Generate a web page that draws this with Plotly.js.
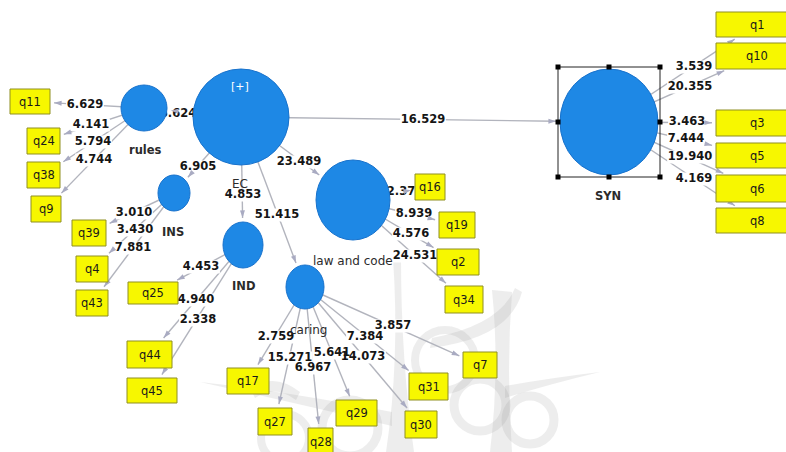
<!DOCTYPE html>
<html><head><meta charset="utf-8">
<script src="https://cdn.plot.ly/plotly-3.0.1.min.js"></script>
<style>html,body{margin:0;padding:0;background:#fff}#c{width:786px;height:452px}</style>
</head><body><div id="c"></div>
<script>
// ---------------- data ----------------
const constructs = ['EC','rules','INS','IND','law and code','caring','SYN'];
const structFrom = ['EC','EC','EC','EC','EC','EC'];
const structTo = ['rules','INS','IND','law and code','caring','SYN'];
const structValue = [6.624, 6.905, 4.853, 23.489, 51.415, 16.529];

const rulesItems = ['q11','q24','q38','q9'];
const rulesValue = [6.629, 4.141, 5.794, 4.744];
const insItems = ['q39','q4','q43'];
const insValue = [3.010, 3.430, 7.881];
const indItems = ['q25','q44','q45'];
const indValue = [4.453, 4.940, 2.338];
const lawItems = ['q16','q19','q2','q34'];
const lawValue = [2.37, 8.939, 4.576, 24.531];
const caringItems = ['q17','q27','q28','q29','q31','q30','q7'];
const caringValue = [2.759, 15.271, 6.967, 5.641, 7.384, 14.073, 3.857];
const synItems = ['q1','q10','q3','q5','q6','q8'];
const synValue = [3.539, 20.355, 3.463, 7.444, 19.940, 4.169];

// ---------------- layout (positions / sizes) ----------------
const nodeGeom = {EC:[241,117,48,48], rules:[144,108,23,23], INS:[174,193,16,18], IND:[243,245,20,23],
  'law and code':[353,200,37,40], caring:[305,287,19,22], SYN:[609,122,49,53]};
const nodeLabelPos = {EC:[240,184], rules:[145,150], INS:[173,232], IND:[243,286],
  'law and code':[353,261], caring:[308,330], SYN:[608,196]};
const boldNode = {rules:true, INS:true, IND:true, SYN:true};
const boxGeom = {
  q11:[10,89,50,114], q24:[27,128,60,154], q38:[27,162,60,188], q9:[31,196,61,222],
  q39:[72,220,106,246], q4:[76,256,108,282], q43:[76,290,108,316],
  q25:[128,282,178,304], q44:[127,341,172,368], q45:[127,378,177,403],
  q17:[227,368,269,394], q27:[258,408,292,435], q28:[308,428,333,456], q29:[336,400,377,426],
  q31:[409,373,448,400], q30:[405,411,437,438], q7:[463,352,497,378],
  q16:[415,174,445,200], q19:[439,212,475,238], q2:[437,249,479,275], q34:[445,286,483,313],
  q1:[716,12,798,37], q10:[716,43,798,69], q3:[716,110,798,136], q5:[716,143,798,168],
  q6:[716,175,798,202], q8:[716,208,798,233]
};
const structLabelPos = [[178,114],[198,167],[243,195],[299,162],[277,215],[423,120]];
const rulesLabelPos = [[85,105],[91,125],[93,142],[94,160]];
const insLabelPos = [[134,213],[135,230],[133,248]];
const indLabelPos = [[201,267],[196,300],[198,320]];
const lawLabelPos = [[405,192],[414,214],[411,234],[415,256]];
const caringLabelPos = [[276,337],[290,358],[313,368],[332,353],[365,337],[363,357],[393,326]];
const synLabelPos = [[694,67],[690,87],[687,122],[686,139],[690,157],[694,179]];

const groups = [
  {node:'rules', items:rulesItems, values:rulesValue, pos:rulesLabelPos},
  {node:'INS', items:insItems, values:insValue, pos:insLabelPos},
  {node:'IND', items:indItems, values:indValue, pos:indLabelPos},
  {node:'law and code', items:lawItems, values:lawValue, pos:lawLabelPos},
  {node:'caring', items:caringItems, values:caringValue, pos:caringLabelPos},
  {node:'SYN', items:synItems, values:synValue, pos:synLabelPos}
];

const LINE = '#b2b4bd', ARROW = '#a9abc2';
const FONT = 'DejaVu Sans, Verdana, sans-serif';

const wmShapes = [];
const lineShapes = [];
const bgShapes = [];
const topShapes = [];
const arrowX = [], arrowY = [], arrowA = [];
const labX = [], labY = [], labT = [];
const annotations = [];

function addEdge(sx, sy, ex, ey){
  const dx = ex - sx, dy = ey - sy, L = Math.hypot(dx, dy);
  const ux = dx / L, uy = dy / L;
  const px = ex - ux * 4, py = ey - uy * 4;
  lineShapes.push({type:'line', xref:'x', yref:'y', x0:sx, y0:sy, x1:px, y1:py, layer:'below',
    line:{color:LINE, width:1.4}});
  arrowX.push(px); arrowY.push(py);
  arrowA.push(Math.atan2(dx, -dy) * 180 / Math.PI);
}
function boxEntry(cx, cy, b){
  const bx = (b[0] + b[2]) / 2, by = (b[1] + b[3]) / 2;
  const dx = bx - cx, dy = by - cy;
  const tx = dx > 0 ? (b[0] - cx) / dx : dx < 0 ? (b[2] - cx) / dx : -Infinity;
  const ty = dy > 0 ? (b[1] - cy) / dy : dy < 0 ? (b[3] - cy) / dy : -Infinity;
  const t = Math.max(tx, ty);
  return [cx + dx * t, cy + dy * t];
}
function textW(s){ let w = 0; for (const ch of s) w += (ch === '.' ? 4.2 : 7.9); return w; }
function addLabel(v, p){
  const s = v.toFixed(3);
  labX.push(p[0]); labY.push(p[1]); labT.push('<b>' + s + '</b>');
  const w = textW(s) + 2;
  bgShapes.push({type:'rect', xref:'x', yref:'y', x0:p[0]-w/2, x1:p[0]+w/2, y0:p[1]-6.5, y1:p[1]+6.5,
    layer:'below', fillcolor:'#ffffff', line:{width:0}});
}

// watermark (faint background emblem)
const wm = 'rgba(150,150,150,0.17)';
function wmPath(d){ wmShapes.push({type:'path', xref:'x', yref:'y', layer:'below', fillcolor:wm, line:{width:0}, path:d}); }
function wmRing(cx, cy, r, w){ wmShapes.push({type:'circle', xref:'x', yref:'y', x0:cx-r, x1:cx+r, y0:cy-r, y1:cy+r,
  layer:'below', line:{color:wm, width:w}}); }
wmRing(480, 405, 26, 9);
wmRing(530, 420, 24, 9);
wmRing(445, 360, 30, 8);
wmRing(350, 428, 28, 9);
wmRing(285, 438, 24, 8);
wmPath('M393,258 Q400,360 386,452 L414,452 Q401,360 401,258 Z');
wmPath('M492,290 Q500,370 490,452 L512,452 Q506,370 512,292 Z');
wmPath('M200,382 Q290,392 392,412 L392,426 Q290,402 200,382 Z');
wmPath('M600,372 Q550,378 505,386 L505,398 Q550,384 600,372 Z');
wmPath('M515,288 Q500,325 432,338 L430,348 Q510,338 522,292 Z');
wmPath('M250,388 Q275,372 300,392 L296,400 Q275,384 255,398 Z');

// structural paths
structTo.forEach((to, i) => {
  const a = nodeGeom[structFrom[i]], b = nodeGeom[to];
  const dx = b[0] - a[0], dy = b[1] - a[1], L = Math.hypot(dx, dy);
  const ux = dx / L, uy = dy / L;
  const k = 1 / Math.sqrt((ux / b[2]) ** 2 + (uy / b[3]) ** 2);
  addEdge(a[0], a[1], b[0] - ux * k, b[1] - uy * k);
  addLabel(structValue[i], structLabelPos[i]);
});
// measurement paths
groups.forEach(g => {
  const n = nodeGeom[g.node];
  g.items.forEach((it, j) => {
    const e = boxEntry(n[0], n[1], boxGeom[it]);
    addEdge(n[0], n[1], e[0], e[1]);
    addLabel(g.values[j], g.pos[j]);
  });
});

// constructs
constructs.forEach(c => {
  const g = nodeGeom[c];
  topShapes.push({type:'circle', xref:'x', yref:'y', x0:g[0]-g[2], x1:g[0]+g[2], y0:g[1]-g[3], y1:g[1]+g[3],
    layer:'above', fillcolor:'#1e88e5', line:{color:'#1872cc', width:1}});
  const lp = nodeLabelPos[c];
  annotations.push({x:lp[0], y:lp[1], xref:'x', yref:'y', text: boldNode[c] ? '<b>'+c+'</b>' : c, showarrow:false,
    font:{family:FONT, size: boldNode[c] ? 11.5 : 12, color:'#2b2b2b'}});
});
annotations.push({x:240, y:86, xref:'x', yref:'y', text:'[+]', showarrow:false, font:{family:FONT, size:11, color:'#ffffff'}});

// indicator boxes
Object.keys(boxGeom).forEach(k => {
  const b = boxGeom[k];
  topShapes.push({type:'rect', xref:'x', yref:'y', x0:b[0], x1:b[2], y0:b[1], y1:b[3], layer:'above',
    fillcolor:'#f7f700', line:{color:'#8f8f22', width:1}});
  annotations.push({x:(b[0]+b[2])/2, y:(b[1]+b[3])/2, xref:'x', yref:'y', text:k, showarrow:false,
    font:{family:FONT, size:11.5, color:'#1a1a1a'}});
});

// selection frame around SYN
const sel = [558, 67, 660, 177];
topShapes.push({type:'rect', xref:'x', yref:'y', x0:sel[0], x1:sel[2], y0:sel[1], y1:sel[3], layer:'above',
  line:{color:'#222', width:1}, fillcolor:'rgba(0,0,0,0)'});
const hx = [sel[0], (sel[0]+sel[2])/2, sel[2]], hy = [sel[1], (sel[1]+sel[3])/2, sel[3]];
hx.forEach((x, i) => hy.forEach((y, j) => {
  if (i === 1 && j === 1) return;
  topShapes.push({type:'rect', xref:'x', yref:'y', x0:x-2.5, x1:x+2.5, y0:y-2.5, y1:y+2.5, layer:'above',
    fillcolor:'#000', line:{width:0}});
}));

const traces = [
  {type:'scatter', mode:'text', x:labX, y:labY, text:labT, textposition:'middle center',
   textfont:{family:FONT, size:11.5, color:'#151515'}, hoverinfo:'skip'},
  {type:'scatter', mode:'markers', x:arrowX, y:arrowY,
   marker:{symbol:'arrow', size:8, angle:arrowA, color:ARROW, line:{width:0}}, hoverinfo:'skip'}
];

const layout = {
  width:786, height:452, margin:{l:0, r:0, t:0, b:0},
  paper_bgcolor:'#ffffff', plot_bgcolor:'#ffffff', showlegend:false,
  xaxis:{range:[0,786], visible:false, fixedrange:true},
  yaxis:{range:[452,0], visible:false, fixedrange:true},
  shapes: wmShapes.concat(lineShapes, bgShapes, topShapes),
  annotations: annotations
};
Plotly.newPlot('c', traces, layout, {staticPlot:true, displayModeBar:false});
</script></body></html>
